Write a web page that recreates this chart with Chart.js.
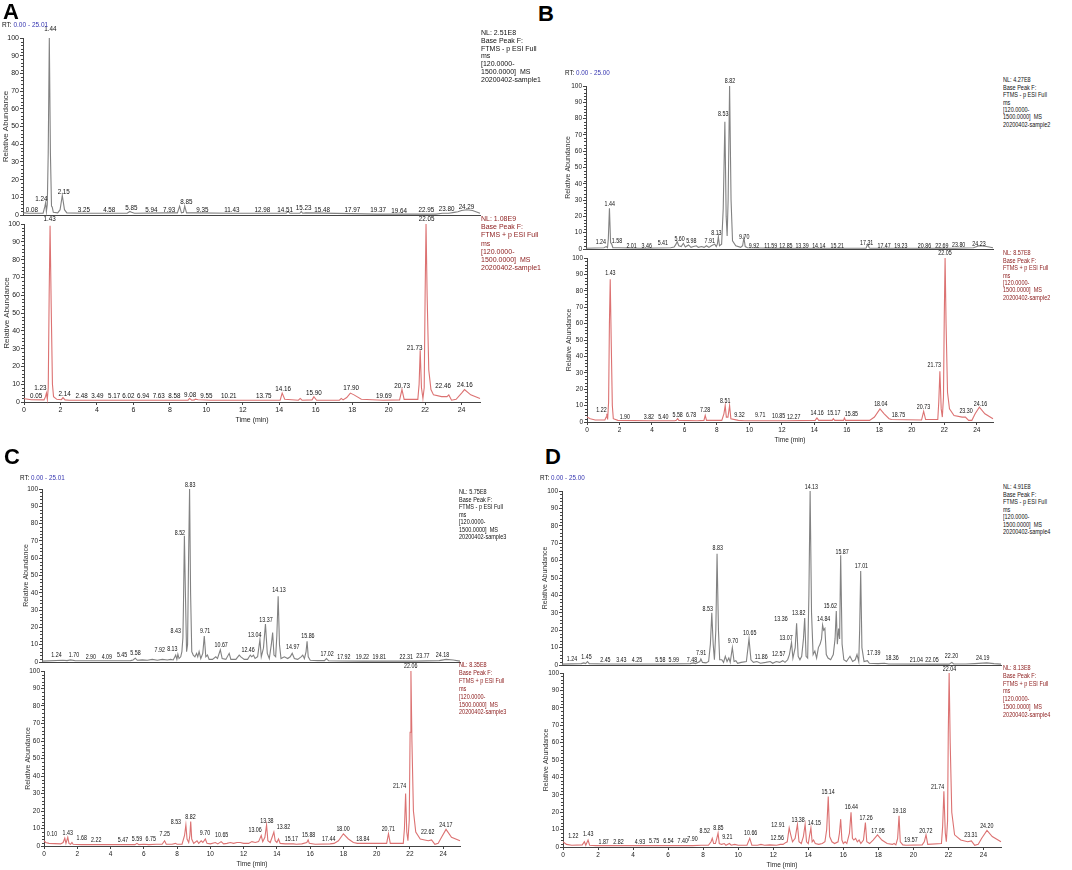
<!DOCTYPE html>
<html><head><meta charset="utf-8">
<script src="https://cdn.jsdelivr.net/npm/chart.js@4.4.1/dist/chart.umd.min.js"></script>
<style>
html,body{margin:0;padding:0;background:#fff;width:1072px;height:870px;overflow:hidden;position:relative;font-family:"Liberation Sans",Arial,sans-serif}
canvas{position:absolute}
.t{position:absolute;white-space:nowrap;color:#111}
.blk{position:absolute;white-space:nowrap;transform-origin:0 0}
.let{position:absolute;font-weight:bold;font-size:22px;line-height:22px;color:#000}
</style></head><body>
<script>
// ---------------- DATA ----------------
// traces: [retention time (min), relative abundance (%)]
// labels: [label text, label centre time, label centre abundance]
// Panel A (sample1)
const traceA1 = [[0,0.8],[0.08,1.2],[0.3,1.0],[1.1,1.0],[1.2,5],[1.24,7],[1.28,2],[1.33,6],[1.38,35],[1.44,100],[1.5,35],[1.56,5],[1.6,4.5],[1.66,1.5],[1.9,1.2],[2.03,3],[2.15,11],[2.27,3],[2.4,1.2],[3.25,1],[4.58,1],[5.7,1],[5.85,2],[5.94,1.5],[6.1,1],[7.93,1.2],[8.45,1.2],[8.57,5],[8.67,1.2],[8.78,1.5],[8.85,5],[8.95,1.2],[9.35,1.2],[11.43,1],[12.98,1],[14.4,1],[14.51,2],[14.6,1],[15.15,1],[15.23,2],[15.3,1],[15.48,1.2],[17.97,0.8],[19.37,0.5],[19.64,0.5],[22.6,0.5],[22.95,1],[23.3,1],[23.6,1.5],[23.8,1.8],[24.0,2.5],[24.29,3],[24.6,2.5],[25.01,1]];
const labelsA1 = [["0.08",0.49,3],["1.24",1.0,9.1],["1.44",1.5,105],["2.15",2.23,13.2],["3.25",3.33,2.8],["4.58",4.72,2.8],["5.85",5.93,4],["5.94",7.02,3],["7.93",8.0,2.8],["8.85",8.94,7.2],["9.35",9.82,3],["11.43",11.43,3],["12.98",13.1,3],["14.51",14.34,3],["15.23",15.36,4.1],["15.48",16.37,3],["17.97",18.02,2.8],["19.37",19.43,2.8],["19.64",20.58,2.4],["22.95",22.08,3],["23.80",23.18,3.4],["24.29",24.27,4.7]];
const traceA2 = [[0,2],[0.05,1.8],[0.4,1.3],[1.1,1.2],[1.18,3],[1.23,5],[1.28,1.5],[1.33,8],[1.38,60],[1.43,99],[1.49,55],[1.56,10],[1.62,3],[1.8,1.5],[2.05,1.3],[2.14,2.5],[2.25,1.2],[2.48,1],[3.49,1],[5.17,1],[6.02,1],[6.94,1],[7.63,1],[8.58,1],[9.0,1],[9.08,2],[9.2,1],[9.35,1.2],[9.4,1.6],[9.55,1.3],[10.21,1],[13.75,1],[14.05,1],[14.16,5],[14.3,1.5],[15.05,1],[15.15,2],[15.25,1],[15.8,1.2],[15.9,3],[16.05,1],[17.3,1],[17.4,2],[17.5,1.2],[17.7,2.5],[17.9,5],[18.1,4],[18.5,1.5],[19.69,1],[20.6,1.2],[20.73,7],[20.85,1.5],[21.6,1.5],[21.67,10],[21.73,29],[21.8,8],[21.88,2],[21.95,8],[22.0,60],[22.05,100],[22.11,60],[22.2,18],[22.32,7],[22.46,4],[22.9,3],[23.2,3],[23.3,4],[23.45,1],[23.7,1.5],[24.0,5],[24.16,7],[24.5,4],[25.01,2]];
const labelsA2 = [["0.05",0.66,3.4],["1.23",0.9,7.7],["1.43",1.41,102.6],["2.14",2.23,4.3],["2.48",3.16,3.4],["3.49",4.02,3.4],["5.17",4.94,3.4],["6.02",5.73,3.4],["6.94",6.53,3.4],["7.63",7.39,3.4],["8.58",8.25,3.4],["9.08",9.11,3.8],["9.55",10.0,3.4],["10.21",11.23,3.4],["13.75",13.15,3.4],["14.16",14.21,7.1],["15.90",15.9,5.3],["17.90",17.94,7.7],["19.69",19.74,3.4],["20.73",20.74,9],["21.73",21.42,30.6],["22.05",22.08,102.8],["22.46",22.99,9],["24.16",24.18,9.4]];
// Panel B (sample2)
const traceB1 = [[0,0.5],[1.1,0.8],[1.24,1.5],[1.32,0.8],[1.37,6],[1.44,25],[1.51,4],[1.58,3],[1.65,0.8],[2.01,0.8],[3.46,0.5],[5.2,0.8],[5.41,1.2],[5.5,2.5],[5.6,4.5],[5.7,2],[5.85,1.5],[5.98,3.5],[6.1,1.2],[6.3,2.5],[6.45,1],[6.6,1.5],[6.78,2],[6.9,1],[7.1,1.5],[7.25,1],[7.4,2],[7.55,1],[7.7,2],[7.91,3],[8.0,1.5],[8.07,3],[8.13,7.5],[8.2,2],[8.33,3],[8.43,25],[8.53,78],[8.61,20],[8.67,8],[8.73,30],[8.82,100],[8.91,30],[9.0,5],[9.2,2],[9.5,1],[9.62,2],[9.70,7],[9.78,1.5],[9.92,0.8],[11.59,0.5],[12.85,0.5],[13.39,0.5],[14.14,0.5],[15.21,0.5],[17.2,0.5],[17.31,3],[17.4,0.6],[17.47,0.5],[19.23,0.5],[20.86,0.5],[22.69,0.5],[23.8,0.8],[24.1,1.8],[24.23,2],[24.6,1.5],[25,0.8]];
const labelsB1 = [["1.24",0.91,4.1],["1.44",1.46,27.7],["1.58",1.9,5.1],["2.01",2.8,2],["3.46",3.73,2],["5.41",4.72,3.5],["5.60",5.75,6.1],["5.98",6.47,5.1],["7.91",7.6,5.1],["8.13",8.01,9.8],["8.53",8.43,83],["8.82",8.84,103],["9.70",9.72,7.2],["9.92",10.32,2],["11.59",11.35,2],["12.85",12.28,2],["13.39",13.27,2],["14.14",14.3,2],["15.21",15.43,2],["17.31",17.24,3.5],["17.47",18.31,2],["19.23",19.34,2],["20.86",20.79,2],["22.69",21.86,2],["23.80",22.89,2.4],["24.23",24.14,3.1]];
const traceB2 = [[0,3],[0.2,2],[0.5,1.2],[1.1,1.2],[1.18,3],[1.22,5],[1.27,1.5],[1.33,12],[1.38,60],[1.43,87],[1.49,50],[1.56,10],[1.62,2],[1.9,1],[3.82,0.8],[5.40,0.8],[5.5,1],[5.58,2],[5.66,1],[6.78,0.8],[7.2,1],[7.28,4],[7.36,1],[8.3,1],[8.43,5],[8.51,10],[8.58,3],[8.68,3],[8.78,10],[8.86,2],[9.32,1],[9.71,0.8],[10.85,0.8],[12.27,0.8],[14.05,1],[14.16,2.5],[14.27,1],[15.1,1],[15.17,2],[15.25,1],[15.8,1],[15.85,2.5],[15.92,1],[17.4,1],[17.7,3],[18.04,8],[18.3,5],[18.6,2],[18.75,1.5],[20.6,1.2],[20.73,6.5],[20.85,1.5],[21.6,1.5],[21.66,12],[21.73,31],[21.81,8],[21.88,3],[21.95,15],[22.0,65],[22.05,100],[22.11,60],[22.2,18],[22.32,8],[22.6,4],[23.1,3],[23.3,3],[23.5,1],[23.7,1],[23.9,5],[24.16,9],[24.5,5],[25,2]];
const labelsB2 = [["1.22",0.89,7.3],["1.43",1.44,90.6],["1.90",2.33,2.8],["3.82",3.81,2.8],["5.40",4.7,2.8],["5.58",5.58,4.3],["6.78",6.41,4.3],["7.28",7.27,7.3],["8.51",8.51,13],["9.32",9.39,4.3],["9.71",10.67,4.3],["10.85",11.8,3.9],["12.27",12.73,3.3],["14.16",14.17,5.5],["15.17",15.2,5.5],["15.85",16.28,4.9],["18.04",18.09,11],["18.75",19.18,4.3],["20.73",20.72,8.9],["21.73",21.38,34.8],["22.05",22.04,103],["23.30",23.34,6.9],["24.16",24.23,11]];
// Panel C (sample3)
const traceC1 = [[0,0.5],[1.24,1],[1.5,0.8],[1.70,1.2],[2.0,0.7],[2.90,0.7],[4.09,0.7],[5.3,0.8],[5.45,1.2],[5.58,2.2],[5.7,1],[6.0,1.2],[6.3,1],[6.6,1.5],[6.9,1],[7.2,1.5],[7.5,1.2],[7.7,1.5],[7.85,1.2],[7.92,2.5],[8.0,4],[8.07,1.5],[8.13,4.5],[8.2,2],[8.3,3],[8.37,6],[8.43,14],[8.46,30],[8.52,73],[8.58,40],[8.65,6],[8.71,10],[8.77,60],[8.83,100],[8.89,40],[8.96,6],[9.05,4],[9.15,3],[9.25,5],[9.32,3],[9.4,6],[9.5,2],[9.62,5],[9.71,15],[9.8,3],[9.9,4],[10.0,1.5],[10.2,1.5],[10.4,3],[10.5,2],[10.67,7],[10.78,2],[11.0,1.5],[11.2,5],[11.3,1.5],[11.6,1.5],[11.8,4],[11.9,3],[12.1,1.5],[12.3,1.5],[12.46,4],[12.55,3],[12.65,4],[12.75,2],[12.9,3],[13.04,13],[13.12,3],[13.25,8],[13.37,22],[13.48,5],[13.6,2],[13.72,10],[13.8,17],[13.88,4],[13.98,3],[14.05,15],[14.13,38],[14.21,10],[14.3,2],[14.5,3],[14.7,2],[14.85,3],[14.97,5],[15.1,2],[15.3,1.5],[15.5,3],[15.6,4],[15.7,2],[15.8,6],[15.86,12],[15.93,3],[16.05,1],[16.5,0.8],[16.9,0.8],[17.02,2],[17.15,0.7],[17.92,0.6],[19.22,0.5],[19.81,0.5],[22.31,0.5],[23.77,0.8],[24.18,1.5],[24.6,1.2],[25.01,0.5]];
const labelsC1 = [["1.24",0.87,3.8],["1.70",1.91,3.8],["2.90",2.92,2.7],["4.09",3.88,2.7],["5.45",4.79,3.8],["5.58",5.59,5.4],["7.92",7.04,6.7],["8.13",7.8,7.7],["8.43",8.0,17.6],["8.52",8.25,74.7],["8.83",8.87,102],["9.71",9.76,17.6],["10.67",10.72,9.6],["12.46",12.33,7.1],["13.04",12.73,15.7],["13.37",13.4,24],["14.13",14.18,41.6],["14.97",15.0,8.6],["15.86",15.91,15],["17.02",17.06,4.8],["17.92",18.06,2.7],["19.22",19.17,2.7],["19.81",20.18,2.7],["22.31",21.79,2.7],["23.77",22.79,3.3],["24.18",23.96,4.2]];
const traceC2 = [[0,3],[0.10,2],[0.3,1.5],[1.0,1.2],[1.15,2],[1.25,4.5],[1.32,1.5],[1.43,5],[1.5,1.5],[1.6,1],[1.68,2],[1.75,1],[2.22,0.8],[3.0,0.8],[5.47,0.8],[5.59,1.5],[5.7,0.8],[6.0,1],[6.3,0.8],[6.75,1],[7.1,1],[7.25,3],[7.35,1],[7.7,1],[7.9,1.5],[8.0,1],[8.3,1],[8.45,6],[8.53,12],[8.6,4],[8.7,2],[8.77,6],[8.82,14],[8.88,4],[9.0,1.5],[9.2,3],[9.3,1.5],[9.45,3],[9.55,2],[9.70,4],[9.8,1.5],[10.0,1.2],[10.3,2],[10.45,1.2],[10.65,2.5],[10.8,1.2],[11.0,1.5],[11.2,2],[11.4,1.5],[11.6,2],[11.8,2],[12.0,1.5],[12.3,1.5],[12.5,2.5],[12.7,2],[12.9,2.5],[13.06,6],[13.15,2.5],[13.28,5],[13.38,12],[13.46,3],[13.6,2],[13.75,6],[13.82,8],[13.9,3],[14.0,2],[14.1,4],[14.2,1.5],[14.5,1.2],[15.0,1.2],[15.17,1],[15.5,1.2],[15.8,2],[15.88,3.5],[15.95,1.5],[16.3,1],[17.2,1.2],[17.44,1.5],[17.7,3],[18.0,7],[18.3,4],[18.6,2],[18.84,1.5],[20.6,1.5],[20.71,7],[20.82,1.5],[21.6,1.5],[21.67,10],[21.74,30],[21.81,8],[21.88,3],[21.96,15],[22.01,65],[22.06,100],[22.12,60],[22.21,20],[22.35,8],[22.62,4],[23.1,3],[23.3,3.5],[23.5,1],[23.7,1.5],[23.9,5],[24.17,9.5],[24.5,5],[25.01,3]];
const labelsC2 = [["0.10",0.48,6.7],["1.43",1.43,7.6],["1.68",2.27,4.4],["2.22",3.14,3.4],["5.47",4.75,3.4],["5.59",5.59,4.2],["6.75",6.42,4.2],["7.25",7.26,6.7],["8.53",7.93,13.8],["8.82",8.81,16.8],["9.70",9.68,7.3],["10.65",10.68,6.3],["13.06",12.69,9],["13.38",13.4,14.5],["13.82",14.4,11.1],["15.17",14.87,4.2],["15.88",15.91,6.3],["17.44",17.12,4.2],["18.00",17.98,9.8],["18.84",19.17,4.2],["20.71",20.7,9.9],["21.74",21.38,34],["22.06",22.05,103],["22.62",23.07,8.2],["24.17",24.16,12]];
// Panel D (sample4)
const traceD1 = [[0,0.5],[1.1,0.8],[1.24,1.2],[1.35,0.8],[1.45,2],[1.55,0.8],[2.45,0.6],[3.43,0.6],[4.25,0.6],[5.58,0.6],[5.99,0.6],[7.3,0.8],[7.48,1.2],[7.6,0.8],[7.85,2],[7.91,3.5],[8.0,1.5],[8.2,1.2],[8.35,2],[8.45,12],[8.53,30],[8.61,12],[8.68,3],[8.76,20],[8.83,64],[8.91,20],[8.98,3],[9.1,3],[9.2,1.5],[9.3,5],[9.4,2],[9.5,4],[9.58,1.5],[9.70,10],[9.8,2],[9.9,2.5],[10.0,1],[10.2,1.5],[10.5,2],[10.65,15],[10.76,3],[10.9,1.5],[11.1,2],[11.3,1],[11.6,1.5],[11.86,2],[12.0,1],[12.2,2],[12.4,1.5],[12.57,2.5],[12.7,1.5],[12.85,3],[12.95,6],[13.07,13],[13.15,4],[13.28,10],[13.36,24],[13.45,5],[13.55,3],[13.65,5],[13.75,15],[13.82,27],[13.9,5],[13.99,4],[14.06,40],[14.13,100],[14.21,30],[14.3,6],[14.4,8],[14.5,4],[14.6,10],[14.7,12],[14.78,15],[14.84,23],[14.9,20],[14.97,21],[15.05,6],[15.15,4],[15.3,3],[15.45,6],[15.55,15],[15.62,31],[15.68,12],[15.75,21],[15.81,15],[15.87,63],[15.95,12],[16.05,3],[16.2,2],[16.4,5],[16.55,2],[16.7,3],[16.8,6],[16.9,2],[16.95,20],[17.01,54],[17.08,10],[17.2,2],[17.39,2.5],[17.5,1],[18.0,0.8],[18.36,1],[18.6,0.6],[21.04,0.5],[22.05,0.5],[22.20,1.5],[22.3,0.6],[23.0,0.6],[23.5,0.8],[24.19,1.2],[24.6,0.8],[25,0.5]];
const labelsD1 = [["1.24",0.57,3.6],["1.45",1.39,4.6],["2.45",2.47,3.1],["3.43",3.38,3.1],["4.25",4.27,3.1],["5.58",5.6,3.1],["5.99",6.36,3.1],["7.48",7.4,3.1],["7.91",7.92,7.1],["8.53",8.3,32.4],["8.83",8.87,67.4],["9.70",9.74,13.6],["10.65",10.69,18.4],["11.86",11.35,4.6],["12.57",12.34,6],["13.07",12.76,15.5],["13.36",12.47,26.3],["13.82",13.48,30],["14.13",14.2,102.5],["14.84",14.9,26.3],["15.62",15.28,34],["15.87",15.95,65],["17.01",17.05,56.8],["17.39",17.75,6.9],["18.36",18.8,4],["21.04",20.18,3.1],["22.05",21.07,3.1],["22.20",22.18,5],["24.19",23.96,4]];
const traceD2 = [[0,3],[0.2,1.5],[0.5,1],[1.1,1.2],[1.22,3],[1.3,1],[1.43,4],[1.52,1],[1.87,0.8],[2.82,0.8],[4.93,0.8],[5.75,0.8],[6.54,0.8],[7.40,0.8],[7.90,1],[8.3,1],[8.45,3],[8.52,5],[8.6,2],[8.7,2],[8.78,5],[8.85,8],[8.92,2],[9.05,1.5],[9.21,2],[9.3,1],[9.5,2],[9.6,1],[9.8,1.5],[10.0,1],[10.5,1],[10.66,5],[10.78,1],[11.1,1],[11.3,1.5],[11.5,1],[11.8,1.2],[12.2,1],[12.4,1.5],[12.56,1.5],[12.7,2.5],[12.8,3],[12.91,11],[13.0,7],[13.1,3],[13.25,5],[13.38,13],[13.47,3],[13.6,2],[13.72,6],[13.82,13],[13.9,3],[14.0,2],[14.08,7],[14.15,11],[14.22,3],[14.3,4],[14.4,2],[14.6,1.5],[14.8,2],[14.95,3],[15.05,10],[15.14,29],[15.22,6],[15.35,3],[15.5,2],[15.7,3],[15.78,8],[15.85,16],[15.92,4],[16.0,2],[16.1,3],[16.2,2],[16.35,8],[16.44,20],[16.52,5],[16.6,4],[16.7,5],[16.8,3],[16.9,4],[17.0,2],[17.15,4],[17.26,14],[17.34,3],[17.5,2],[17.7,4],[17.95,7],[18.2,4],[18.5,2],[18.8,1.5],[18.9,2],[19.0,1.2],[19.1,5],[19.18,18],[19.25,3],[19.4,1.2],[19.57,1],[20.5,1.2],[20.62,3],[20.72,7],[20.82,1.5],[21.6,2],[21.67,12],[21.74,32],[21.82,8],[21.88,3],[21.95,15],[21.99,65],[22.04,100],[22.1,60],[22.19,20],[22.35,7],[22.7,4],[23.1,3],[23.31,3.5],[23.5,1],[23.7,1.5],[23.9,5],[24.20,9.5],[24.5,6],[25,3]];
const labelsD2 = [["1.22",0.59,6.5],["1.43",1.44,7.5],["1.87",2.32,2.9],["2.82",3.17,2.9],["4.93",4.39,2.9],["5.75",5.2,3.3],["6.54",6.02,3.3],["7.40",6.83,3.3],["7.90",7.39,4.6],["8.52",8.09,9],["8.85",8.87,10.9],["9.21",9.38,5.6],["10.66",10.71,7.9],["12.56",12.23,5],["12.91",12.27,12.8],["13.38",13.42,15.3],["14.15",14.35,13.8],["15.14",15.13,31.4],["16.44",16.46,22.8],["17.26",17.3,16.5],["17.95",17.98,9],["19.18",19.19,20.9],["19.57",19.86,4.2],["20.72",20.71,9.4],["21.74",21.38,34.5],["22.04",22.06,102],["23.31",23.28,7.1],["24.20",24.19,11.9]];
// Tick / header texts
const yTicks = [0,10,20,30,40,50,60,70,80,90,100];
const xTicks = [0,2,4,6,8,10,12,14,16,18,20,22,24];
const rtRanges = ["0.00 - 25.01","0.00 - 25.00","0.00 - 25.01","0.00 - 25.00"];
const nlNeg = ["2.51E8","4.27E8","5.75E8","4.91E8"];
const nlPos = ["1.08E9","8.57E8","8.35E8","8.13E8"];
const sampleNames = ["20200402-sample1","20200402-sample2","20200402-sample3","20200402-sample4"];

// ---------------- DRAWING ----------------
const FONT = '"Liberation Sans", Arial, sans-serif';
const GRAY = '#828282', RED = '#dc7272', DARKRED = '#8b1a1a', AX = '#444';

function makeChart(c){
  const padL=c.padL, padR=2, padT=16, padB = c.xlabels ? 22 : 2;
  const W = Math.round(c.right - c.left + padL + padR);
  const H = Math.round(c.bottom - c.top + padT + padB);
  const cv = document.createElement('canvas');
  cv.width = W; cv.height = H;
  cv.style.left = (c.left - padL) + 'px';
  cv.style.top = (c.top - padT) + 'px';
  document.body.appendChild(cv);
  const labelPlugin = {
    id: 'peakLabels',
    afterDatasetsDraw(chart){
      const {ctx, scales:{x, y}} = chart;
      ctx.save();
      ctx.font = c.fs + 'px ' + FONT;
      ctx.fillStyle = '#111';
      ctx.textAlign = 'center';
      ctx.textBaseline = 'middle';
      for (const [txt, t, v] of c.labels) {
        ctx.save();
        ctx.translate(x.getPixelForValue(t), y.getPixelForValue(v));
        ctx.scale(c.lsx, 1);
        ctx.fillText(txt, 0, 0);
        ctx.restore();
      }
      ctx.restore();
    },
    afterDraw(chart){
      const {ctx, scales:{x, y}} = chart;
      ctx.save();
      ctx.strokeStyle = AX; ctx.lineWidth = 1;
      ctx.beginPath();
      for (let v = 2; v < 100; v += 2) {
        if (v % 10 === 0) continue;
        const py = Math.round(y.getPixelForValue(v)) + 0.5;
        ctx.moveTo(x.left - 2, py); ctx.lineTo(x.left, py);
      }
      ctx.stroke();
      ctx.restore();
    }
  };
  new Chart(cv, {
    type: 'line',
    data: { datasets: [{ data: c.trace.map(p => ({x: p[0], y: p[1]})), borderColor: c.color, borderWidth: 1.1, pointRadius: 0, tension: 0, fill: false, clip: false }] },
    options: {
      responsive: false, animation: false, events: [],
      layout: { padding: { top: padT, right: padR, left: 0, bottom: 0 } },
      plugins: { legend: { display: false }, tooltip: { enabled: false } },
      scales: {
        x: {
          type: 'linear', min: 0, max: c.xmax,
          afterBuildTicks: s => { s.ticks = xTicks.map(v => ({value: v})); },
          ticks: { display: c.xlabels, autoSkip: false, maxRotation: 0, font: { size: c.tks, family: FONT }, color: '#222', padding: 1 },
          grid: { display: c.xlabels, drawOnChartArea: false, drawTicks: true, tickLength: 3, color: AX },
          border: { display: true, color: AX, width: 1 },
          title: { display: c.xlabels, text: 'Time (min)', font: { size: c.tks, family: FONT }, color: '#222', padding: 0 },
          afterFit: s => { s.height = padB; s.paddingLeft = 0; s.paddingRight = 0; }
        },
        y: {
          min: 0, max: 100,
          afterBuildTicks: s => { s.ticks = yTicks.map(v => ({value: v})); },
          ticks: { font: { size: c.tks, family: FONT }, color: '#222', padding: 1 },
          grid: { drawOnChartArea: false, drawTicks: true, tickLength: 3, color: AX },
          border: { display: true, color: AX, width: 1 },
          title: { display: true, text: 'Relative Abundance', font: { size: c.ts, family: FONT }, color: '#333', padding: 0 },
          afterFit: s => { s.width = padL; s.paddingTop = 0; s.paddingBottom = 0; }
        }
      }
    },
    plugins: [labelPlugin]
  });
}

const charts = [
  {trace: traceA1, labels: labelsA1, left: 23, right: 480, top: 38, bottom: 215, xmax: 25.01, color: GRAY, xlabels: false, padL: 22, fs: 7.3, lsx: 0.86, tks: 7, ts: 8},
  {trace: traceA2, labels: labelsA2, left: 24, right: 480, top: 224, bottom: 402, xmax: 25.01, color: RED, xlabels: true, padL: 22, fs: 7.3, lsx: 0.86, tks: 7, ts: 8},
  {trace: traceB1, labels: labelsB1, left: 586, right: 993, top: 86, bottom: 249, xmax: 25.00, color: GRAY, xlabels: false, padL: 22, fs: 7, lsx: 0.76, tks: 6.5, ts: 7},
  {trace: traceB2, labels: labelsB2, left: 587, right: 993, top: 258, bottom: 422, xmax: 25.00, color: RED, xlabels: true, padL: 22, fs: 7, lsx: 0.76, tks: 6.5, ts: 7},
  {trace: traceC1, labels: labelsC1, left: 42, right: 460, top: 489, bottom: 662, xmax: 25.01, color: GRAY, xlabels: false, padL: 20, fs: 7, lsx: 0.76, tks: 6.5, ts: 7},
  {trace: traceC2, labels: labelsC2, left: 44, right: 460, top: 671, bottom: 846, xmax: 25.01, color: RED, xlabels: true, padL: 20, fs: 7, lsx: 0.76, tks: 6.5, ts: 7},
  {trace: traceD1, labels: labelsD1, left: 562, right: 1001, top: 491, bottom: 665, xmax: 25.00, color: GRAY, xlabels: false, padL: 21, fs: 7, lsx: 0.76, tks: 6.5, ts: 7},
  {trace: traceD2, labels: labelsD2, left: 563, right: 1001, top: 673, bottom: 847, xmax: 25.00, color: RED, xlabels: true, padL: 21, fs: 7, lsx: 0.76, tks: 6.5, ts: 7}
];
charts.forEach(makeChart);

// ---- header texts ----
function addDiv(cls, html, css){
  const d = document.createElement('div');
  d.className = cls; d.innerHTML = html;
  Object.assign(d.style, css);
  document.body.appendChild(d);
  return d;
}
const letterBoxes = [['A', 3, 1], ['B', 538, 3], ['C', 4, 446], ['D', 545, 446]];
letterBoxes.forEach(([t, x, y]) => addDiv('let', t, {left: x + 'px', top: y + 'px'}));

const rtBoxes = [[2, 25, 6.5], [565, 73, 6.3], [20, 478, 6.3], [540, 478, 6.3]];
rtBoxes.forEach(([x, y, fs], i) => addDiv('t', 'RT: <span style="color:#3535b0">' + rtRanges[i] + '</span>',
  {left: x + 'px', top: (y - fs * 0.6) + 'px', fontSize: fs + 'px', lineHeight: (fs * 1.2) + 'px'}));

// NL blocks: [x, firstLineCenterY, lineHeight, fontSize, scaleX]
const nlBoxes = [
  [[481, 33, 7.8, 7, 1], [481, 219, 8.2, 7, 1]],
  [[1003, 80, 7.4, 6.5, 0.85], [1003, 253, 7.4, 6.5, 0.85]],
  [[459, 492, 7.5, 6.5, 0.85], [459, 665, 7.9, 6.5, 0.85]],
  [[1003, 487, 7.5, 6.5, 0.85], [1003, 668, 7.8, 6.5, 0.85]]
];
for (let i = 0; i < 4; i++) {
  for (let k = 0; k < 2; k++) {
    const [x, y, lh, fs, sx] = nlBoxes[i][k];
    const lines = ['NL: ' + (k === 0 ? nlNeg[i] : nlPos[i]), 'Base Peak F:', k === 0 ? 'FTMS - p ESI Full' : 'FTMS + p ESI Full', 'ms', '[120.0000-', '1500.0000]&nbsp; MS', sampleNames[i]];
    addDiv('blk', lines.join('<br>'), {left: x + 'px', top: (y - lh / 2) + 'px', fontSize: fs + 'px', lineHeight: lh + 'px', color: k === 0 ? '#111' : DARKRED, transform: 'scaleX(' + sx + ')'});
  }
}
</script>
</body></html>
